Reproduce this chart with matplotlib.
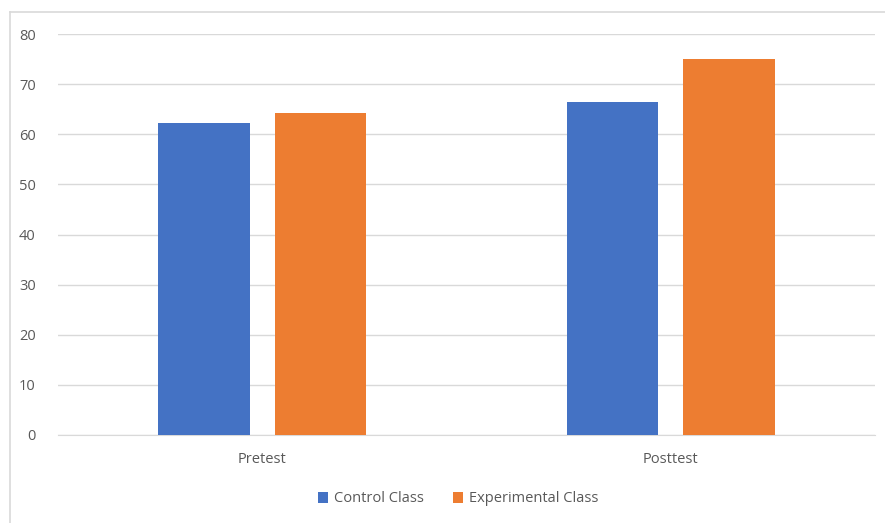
import matplotlib.pyplot as plt
import matplotlib.lines as mlines
import numpy as np

categories = ["Pretest", "Posttest"]
control = [62.3, 66.4]
experimental = [64.2, 75.0]
series_names = ["Control Class", "Experimental Class"]

plt.rcParams["font.family"] = ["Open Sans", "DejaVu Sans"]
txt = "#595959"
grid = "#d9d9d9"

fig = plt.figure(figsize=(8.85, 5.23), dpi=100)
ax = fig.add_axes([58 / 885, 88 / 523, 817 / 885, 401 / 523])

x = np.arange(len(categories))
w = 0.224
ax.bar(x - 0.143, control, w, color="#4472c4", label=series_names[0], zorder=3)
ax.bar(x + 0.143, experimental, w, color="#ed7d31", label=series_names[1], zorder=3)

ax.set_xlim(-0.5, 1.5)
ax.set_ylim(0, 80)
ax.set_yticks(range(0, 81, 10))
ax.set_xticks(x)
ax.set_xticklabels(categories)
ax.yaxis.grid(True, color=grid, linewidth=1, zorder=0)
for s in ["top", "right", "left"]:
    ax.spines[s].set_visible(False)
ax.spines["bottom"].set_color(grid)
ax.tick_params(axis="both", length=0, labelsize=10.5, colors=txt)
ax.tick_params(axis="y", pad=16)
ax.tick_params(axis="x", pad=12)

leg = fig.legend(loc="center", bbox_to_anchor=(458 / 885, 1 - 499 / 523), ncol=2,
                 frameon=False, fontsize=10.5, handlelength=0.7, handleheight=0.7,
                 columnspacing=2.0, handletextpad=0.4)
for t in leg.get_texts():
    t.set_color(txt)

# chart border
fig.add_artist(mlines.Line2D([10 / 885, 10 / 885], [0, 1 - 12 / 523], color=grid,
                             linewidth=1.2, transform=fig.transFigure))
fig.add_artist(mlines.Line2D([10 / 885, 1], [1 - 12 / 523, 1 - 12 / 523], color=grid,
                             linewidth=1.2, transform=fig.transFigure))

fig.savefig("out.png", dpi=100)
